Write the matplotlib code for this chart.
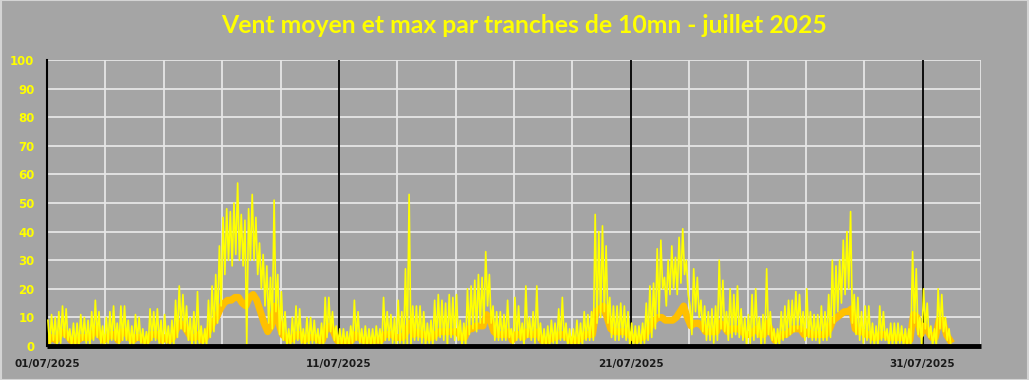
import numpy as np
import matplotlib
matplotlib.use("Agg")
import matplotlib.pyplot as plt
from matplotlib.patches import Rectangle

# valeurs, tranches de 3h (8 par jour), du 01/07 au 31/07
vent_max_haut = [
    9, 11, 10, 12, 14, 13, 6, 8,
    8, 11, 10, 9, 12, 16, 12, 7,
    10, 12, 14, 8, 14, 14, 9, 7,
    11, 10, 6, 5, 13, 12, 13, 9,
    11, 7, 9, 16, 21, 18, 14, 10,
    12, 19, 7, 6, 16, 21, 25, 35,
    45, 48, 47, 50, 57, 46, 44, 48,
    53, 45, 36, 32, 28, 24, 51, 25,
    19, 12, 6, 10, 14, 13, 6, 10,
    10, 9, 6, 8, 17, 17, 12, 7,
    6, 6, 5, 7, 16, 12, 6, 7,
    6, 6, 7, 6, 17, 12, 11, 10,
    16, 12, 27, 53, 14, 14, 14, 12,
    8, 9, 16, 18, 16, 15, 18, 17,
    18, 9, 8, 20, 21, 23, 25, 24,
    33, 25, 14, 12, 12, 11, 16, 6,
    17, 14, 8, 21, 10, 12, 21, 8,
    6, 7, 9, 8, 13, 17, 8, 6,
    6, 9, 8, 12, 11, 12, 46, 40,
    42, 35, 17, 14, 14, 15, 14, 12,
    8, 7, 7, 8, 15, 21, 22, 34,
    37, 24, 30, 35, 31, 38, 41, 30,
    14, 27, 24, 16, 14, 12, 13, 14,
    30, 23, 12, 20, 18, 21, 13, 10,
    11, 18, 20, 10, 11, 27, 12, 6,
    6, 12, 14, 16, 16, 19, 18, 12,
    20, 12, 11, 11, 14, 12, 18, 30,
    28, 30, 37, 40, 47, 18, 17, 12,
    14, 14, 8, 7, 14, 12, 6, 8,
    8, 8, 7, 6, 6, 33, 27, 10,
    20, 15, 7, 6, 20, 18, 10, 6,
]

vent_max_bas = [
    0, 2, 0, 1, 3, 2, 0, 0,
    0, 2, 1, 0, 2, 3, 1, 0,
    1, 2, 2, 0, 2, 2, 0, 0,
    2, 1, 0, 0, 2, 2, 1, 0,
    1, 0, 0, 3, 6, 5, 2, 0,
    0, 1, 0, 0, 3, 5, 8, 14,
    25, 30, 28, 32, 30, 28, 0, 30,
    30, 25, 20, 14, 8, 6, 12, 4,
    2, 0, 0, 1, 2, 1, 0, 0,
    1, 1, 0, 0, 3, 5, 2, 0,
    0, 0, 0, 1, 2, 1, 0, 0,
    0, 0, 1, 0, 2, 2, 1, 0,
    1, 0, 0, 0, 2, 2, 1, 0,
    1, 0, 2, 3, 2, 0, 3, 2,
    2, 0, 0, 4, 6, 5, 8, 8,
    14, 8, 2, 2, 2, 2, 3, 0,
    2, 2, 0, 3, 2, 1, 2, 0,
    0, 0, 1, 0, 2, 2, 0, 0,
    0, 0, 0, 2, 2, 2, 8, 10,
    12, 8, 3, 2, 2, 3, 2, 0,
    0, 0, 0, 1, 2, 3, 6, 10,
    20, 14, 18, 20, 18, 22, 25, 18,
    4, 12, 10, 5, 2, 2, 1, 2,
    6, 5, 2, 3, 4, 3, 2, 0,
    1, 2, 3, 0, 1, 4, 2, 0,
    0, 2, 3, 4, 5, 6, 5, 2,
    3, 2, 2, 1, 2, 2, 3, 8,
    12, 15, 18, 20, 8, 4, 2, 1,
    2, 1, 0, 0, 2, 2, 0, 0,
    0, 1, 0, 0, 0, 8, 4, 0,
    6, 3, 0, 0, 6, 5, 2, 0,
]

vent_moyen = [
    2, 3, 2, 4, 5, 4, 2, 2,
    2, 3, 3, 3, 4, 6, 4, 2,
    3, 4, 4, 2, 5, 5, 3, 2,
    3, 3, 2, 2, 4, 4, 4, 2,
    3, 2, 3, 6, 8, 7, 5, 3,
    3, 4, 2, 3, 6, 8, 10, 13,
    15, 16, 16, 17, 17, 15, 14, 17,
    18, 16, 12, 8, 5, 7, 14, 8,
    4, 3, 2, 3, 4, 4, 2, 3,
    3, 3, 2, 2, 6, 7, 5, 2,
    1, 2, 1, 2, 4, 3, 2, 2,
    2, 2, 2, 2, 4, 4, 4, 3,
    3, 3, 5, 8, 4, 5, 4, 4,
    3, 3, 4, 5, 5, 5, 5, 5,
    5, 3, 3, 6, 6, 7, 7, 7,
    11, 9, 5, 4, 4, 4, 5, 2,
    4, 4, 3, 5, 4, 4, 5, 2,
    2, 2, 3, 3, 4, 4, 3, 2,
    2, 2, 3, 4, 4, 4, 12, 13,
    14, 10, 6, 5, 5, 5, 5, 4,
    3, 2, 3, 3, 5, 7, 9, 10,
    10, 9, 9, 9, 10, 12, 14, 10,
    7, 8, 8, 7, 5, 5, 5, 5,
    8, 7, 5, 6, 6, 6, 5, 4,
    4, 5, 6, 4, 4, 8, 5, 2,
    3, 4, 4, 5, 6, 6, 6, 4,
    5, 4, 4, 4, 4, 4, 6, 9,
    10, 11, 12, 12, 13, 6, 5, 5,
    4, 4, 3, 3, 4, 4, 3, 3,
    3, 3, 3, 2, 2, 11, 10, 4,
    7, 5, 3, 3, 9, 9, 4, 2,
]

dates_labels = ["01/07/2025", "11/07/2025", "21/07/2025", "31/07/2025"]
dates_pos = [0, 10, 20, 30]
titre = "Vent moyen et max par tranches de 10mn - juillet 2025"

gris = "#a5a5a5"
jaune = "#ffff00"
orange = "#ffc000"

n = len(vent_moyen)
t_bin = np.arange(n) * 3.0 / 24.0  # debut de chaque tranche, en jours
# la courbe max alterne haut / bas dans chaque tranche
t_max = np.ravel(np.column_stack([t_bin + 0.75 / 24, t_bin + 2.25 / 24]))
v_max = np.ravel(np.column_stack([vent_max_haut, vent_max_bas]))
t_moy = t_bin + 1.5 / 24

fig = plt.figure(figsize=(10.29, 3.80), dpi=100, facecolor=gris)
ax = fig.add_axes([47 / 1029, 34 / 380, 934 / 1029, 286 / 380])
ax.set_facecolor(gris)

# grille
for y in range(10, 101, 10):
    ax.axhline(y, color="#e6e6e6", lw=1.3, zorder=1)
for d in range(2, 33, 2):
    if d in (10, 20, 30):
        ax.axvline(d, color="black", lw=1.3, zorder=1)
    else:
        ax.axvline(d, color="#e6e6e6", lw=1.3, zorder=1)

ax.plot(t_moy, vent_moyen, color=orange, lw=5.0, zorder=2)
ax.plot(t_max, v_max, color=jaune, lw=1.2, zorder=3)

ax.set_xlim(0, 32)
ax.set_ylim(0, 100)
for s in ["top", "right"]:
    ax.spines[s].set_visible(False)
ax.spines["left"].set_color("black")
ax.spines["left"].set_linewidth(1.5)
ax.spines["bottom"].set_color("black")
ax.spines["bottom"].set_linewidth(3.5)
ax.spines["bottom"].set_zorder(4)
ax.spines["bottom"].set_capstyle("butt")

ax.set_yticks(range(0, 101, 10))
ax.set_xticks(dates_pos)
ax.set_xticklabels(dates_labels)
ax.tick_params(axis="y", length=0, pad=9, labelcolor=jaune, labelsize=8.5)
ax.tick_params(axis="x", length=0, pad=9, labelcolor="#1a1a1a", labelsize=7.5)
for lab in ax.get_yticklabels() + ax.get_xticklabels():
    lab.set_fontweight("bold")

fig.text(0.509, 0.932, titre, ha="center", va="center", color=jaune,
         fontsize=17.8, fontweight="bold", family=["Lato", "DejaVu Sans"])

fig.patches.append(Rectangle((0.0005, 0.001), 0.999, 0.998, transform=fig.transFigure,
                             fill=False, edgecolor="#d4d4d4", lw=1.5))

fig.savefig("out.png", dpi=100, facecolor=gris)
